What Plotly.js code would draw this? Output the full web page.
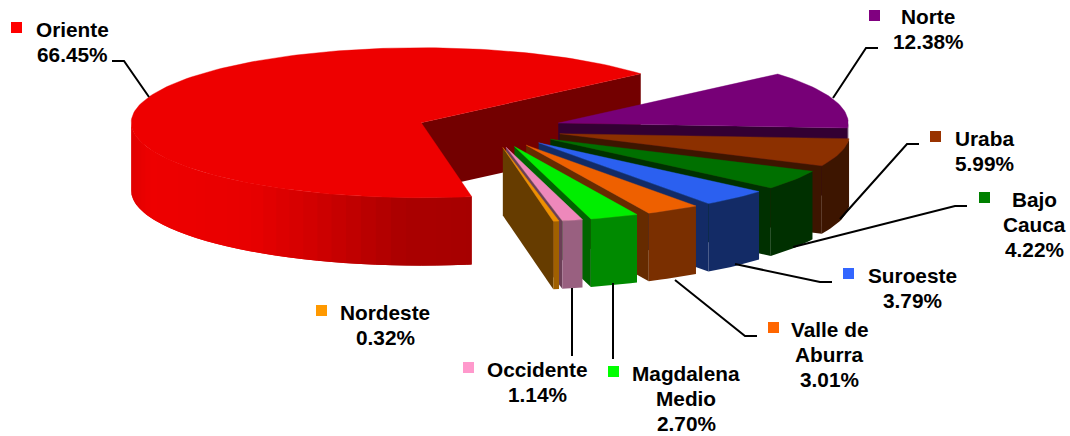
<!DOCTYPE html>
<html>
<head>
<meta charset="utf-8">
<script src="https://cdn.plot.ly/plotly-3.0.1.min.js"></script>
<style>html,body{margin:0;padding:0;background:#fff}#chart{width:1070px;height:436px}</style>
</head>
<body>
<div id="chart"></div>
<script>
// ---- data (drawing order = counter-clockwise round the pie)
var categories = ["Oriente","Nordeste","Occidente","Magdalena Medio","Valle de Aburra","Suroeste","Bajo Cauca","Uraba","Norte"];
var percents   = [66.45,0.32,1.14,2.70,3.01,3.79,4.22,5.99,12.38];
var labelLines = [["Oriente","66.45%"],["Nordeste","0.32%"],["Occidente","1.14%"],["Magdalena","Medio","2.70%"],["Valle de","Aburra","3.01%"],["Suroeste","3.79%"],["Bajo","Cauca","4.22%"],["Uraba","5.99%"],["Norte","12.38%"]];

// ---- colours
var keyColors = ["#ff0000","#ff9900","#ff99cc","#00ff00","#ff6600","#3366ff","#008000","#993300","#800080"];
var topColors = ["#ee0000","#ee9000","#ee88bb","#00ee00","#ee6000","#2b60f0","#007000","#8c3000","#770077"];
var cutColors = ["#730000","#663c00","#6b3f57","#006400","#662b00","#132b66","#003000","#3d1500","#330033"];
var arcColors = [null,"#a06000","#996080","#008a00","#7a2f00","#132b66","#003000","#3d1500","#330033"];

// ---- label placement (pixel space of the hidden axes)
var labelX    = [72,385,537,686,829,912,1034,984,928];
var labelY    = [29,312,369,373,329,275,199,138,16];
var lineStep  = 25.3;
var keyX      = [16.5,321.5,468.5,613.5,773.5,848.5,984.5,935.5,874.5];
var keyY      = [27.5,310.5,367.5,371.5,327.5,273.5,197.5,136.5,15.5];
var leaderX   = [[112,124,149],null,[572,572],[613,613],[757,745,675],[832,820,735],[967,955,793],[919,907,840],[878,866,833]];
var leaderY   = [[61,61,97],null,[356,288],[359,283],[336,336,280],[282,282,264],[206,206,247],[144,144,219],[48,48,98]];

// ---- pie geometry
var cx = 489.5, cy = 129, rx = 290, ry = 75, depth = 68, pull = 0.25, startAngle = 40.8;
var rad = Math.PI / 180;

function poly(xs, ys, color, lineWidth) {
  return {type:"scatter", mode:"lines", x:xs, y:ys, fill:"toself", fillcolor:color,
          line:{color:color, width:lineWidth || 0}, hoverinfo:"skip", showlegend:false};
}
function orienteShade(x) {
  var xs = [131,150,250,300,353,403,472], vs = [224,238,232,214,192,170,166];
  for (var i = 1; i < xs.length; i++) if (x <= xs[i]) {
    return "rgb(" + Math.round(vs[i-1] + (vs[i]-vs[i-1]) * (x-xs[i-1]) / (xs[i]-xs[i-1])) + ",0,0)";
  }
  return "rgb(166,0,0)";
}

var slices = [], cum = 0;
percents.forEach(function (p, i) {
  var a0 = startAngle + cum * 3.6, a1 = a0 + p * 3.6, mid = (a0 + a1) / 2;
  cum += p;
  slices.push({i:i, a0:a0, a1:a1,
    ax: cx + pull * rx * Math.cos(mid * rad),
    ay: cy - pull * ry * Math.sin(mid * rad)});
});

function ptX(s, a) { return s.ax + rx * Math.cos(a * rad); }
function ptY(s, a) { return s.ay - ry * Math.sin(a * rad); }

function wall(s, from, to, color) {
  var xs = [], ys = [], n = Math.max(1, Math.ceil((to - from) / 1.5)), k, t;
  for (k = 0; k <= n; k++) { t = from + (to - from) * k / n; xs.push(ptX(s, t)); ys.push(ptY(s, t)); }
  for (k = n; k >= 0; k--) { t = from + (to - from) * k / n; xs.push(ptX(s, t)); ys.push(ptY(s, t) + depth); }
  xs.push(xs[0]); ys.push(ys[0]);
  return poly(xs, ys, color);
}

var traces = [];
function drawSlice(s) {
  var i = s.i;
  // radial cut face at the starting edge
  var ex = ptX(s, s.a0), ey = ptY(s, s.a0);
  traces.push(poly([s.ax, ex, ex, s.ax, s.ax], [s.ay, ey, ey + depth, s.ay + depth, s.ay], cutColors[i]));
  // outer wall: only the part on the near half of the ellipse
  var lo = Math.max(s.a0, 180), hi = Math.min(s.a1, 360);
  if (hi > lo) {
    if (arcColors[i]) {
      traces.push(wall(s, lo, hi, arcColors[i]));
    } else {
      // shaded wall: each band overlaps the next so no seams appear
      var step = 3;
      for (var a = lo; a < hi; a += step) {
        traces.push(wall(s, a, Math.min(a + 2 * step, hi), orienteShade(ptX(s, a + step / 2))));
      }
    }
  }
  // top face
  var xs = [s.ax], ys = [s.ay], n = Math.max(2, Math.ceil((s.a1 - s.a0) / 1.5));
  for (var k = 0; k <= n; k++) {
    var t = s.a0 + (s.a1 - s.a0) * k / n;
    xs.push(ptX(s, t)); ys.push(ptY(s, t));
  }
  xs.push(s.ax); ys.push(s.ay);
  traces.push(poly(xs, ys, topColors[i], 0.4));
}
// painter's order: big slice first, then from the back of the group to the front
drawSlice(slices[0]);
for (var j = slices.length - 1; j >= 1; j--) drawSlice(slices[j]);

// leader lines
leaderX.forEach(function (lx, i) {
  if (!lx) return;
  traces.push({type:"scatter", mode:"lines", x:lx, y:leaderY[i],
    line:{color:"#000000", width:2}, hoverinfo:"skip", showlegend:false});
});
// legend keys
traces.push({type:"scatter", mode:"markers", x:keyX, y:keyY, text:categories,
  marker:{symbol:"square", size:11, color:keyColors, line:{width:0}},
  hoverinfo:"text", showlegend:false});

var annotations = [];
labelLines.forEach(function (lines, i) {
  lines.forEach(function (t, k) {
    annotations.push({text:"<b>" + t + "</b>", x:labelX[i], y:labelY[i] + k * lineStep, xref:"x", yref:"y",
      xanchor:"center", yanchor:"middle", showarrow:false, align:"center",
      font:{family:"Liberation Sans, Arial, sans-serif", size:20.8, color:"#000000"}});
  });
});

var hidden = {visible:false, fixedrange:true, showgrid:false, zeroline:false};
Plotly.newPlot("chart", traces, {
  width:1070, height:436, margin:{l:0,r:0,t:0,b:0},
  paper_bgcolor:"#ffffff", plot_bgcolor:"#ffffff", showlegend:false,
  xaxis:Object.assign({range:[0,1070]}, hidden),
  yaxis:Object.assign({range:[436,0]}, hidden),
  annotations:annotations
}, {displayModeBar:false, staticPlot:true});
</script>
</body>
</html>
